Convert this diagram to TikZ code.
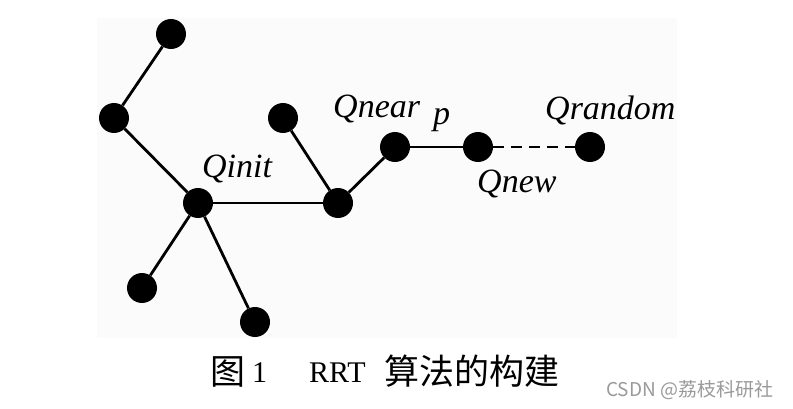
\documentclass[tikz,border=0pt]{standalone}
\usepackage{fontspec}
\newfontfamily\tms{Liberation Serif}
\newfontfamily\cjk{Noto Sans CJK SC}
\definecolor{panel}{HTML}{FBFBFB}
\definecolor{wm}{HTML}{9A9A9A}
\begin{document}
\begin{tikzpicture}[x=1pt,y=-1pt,
  dot/.style={circle,fill=black,inner sep=0pt,minimum size=30pt},
  edge/.style={line width=2.8pt},
  lbl/.style={font=\tms\itshape\fontsize{34}{34}\selectfont,inner sep=0pt,anchor=base west},
  cjkcap/.style={font=\cjk\fontsize{35}{35}\selectfont,inner sep=0pt,anchor=base west},
  latcap/.style={font=\tms\fontsize{30}{30}\selectfont,inner sep=0pt,anchor=base west}]
\useasboundingbox (0,0) rectangle (793,409);
\fill[white] (0,0) rectangle (793,409);
\fill[panel] (97,18) rectangle (677,338);
% tree nodes
\node[dot] (top) at (171,34) {};
\node[dot] (b) at (114,118) {};
\node[dot] (qinit) at (198,203) {};
\node[dot] (c) at (142,288) {};
\node[dot] (d) at (255,322) {};
\node[dot] (e) at (283,118) {};
\node[dot] (f) at (338,203) {};
\node[dot] (qnear) at (395,147) {};
\node[dot] (qnew) at (478,147) {};
\node[dot] (qrand) at (590,147) {};
% connectors
\draw[edge] (top) -- (b);
\draw[edge] (b) -- (qinit);
\draw[edge] (qinit) -- (c);
\draw[edge] (qinit) -- (d);
\draw[edge] (qinit) -- (f);
\draw[edge] (e) -- (f);
\draw[edge] (f) -- (qnear);
\draw[edge] (qnear) -- (qnew);
\draw[edge,dash pattern=on 11pt off 7pt] (qnew) -- (qrand);
% labels
\node[lbl] (lqinit) at (202,178) {Qinit};
\node[lbl] (lqnear) at (333,118) {Qnear};
\node[lbl] (lp) at (433,125) {p};
\node[lbl] (lqrand) at (545,120) {Qrandom};
\node[lbl] (lqnew) at (477,193) {Qnew};
% caption
\node[cjkcap] (c1) at (210,384) {图};
\node[latcap] (c2) at (252,382) {1};
\node[latcap] (c3) at (309,382) {RRT};
\node[cjkcap] (c4) at (384,384) {算法的构建};
% watermark
\node[font=\cjk\fontsize{19}{19}\selectfont,text=wm,inner sep=0pt,anchor=base west] (wmk) at (606,396) {CSDN @荔枝科研社};
\end{tikzpicture}
\end{document}
